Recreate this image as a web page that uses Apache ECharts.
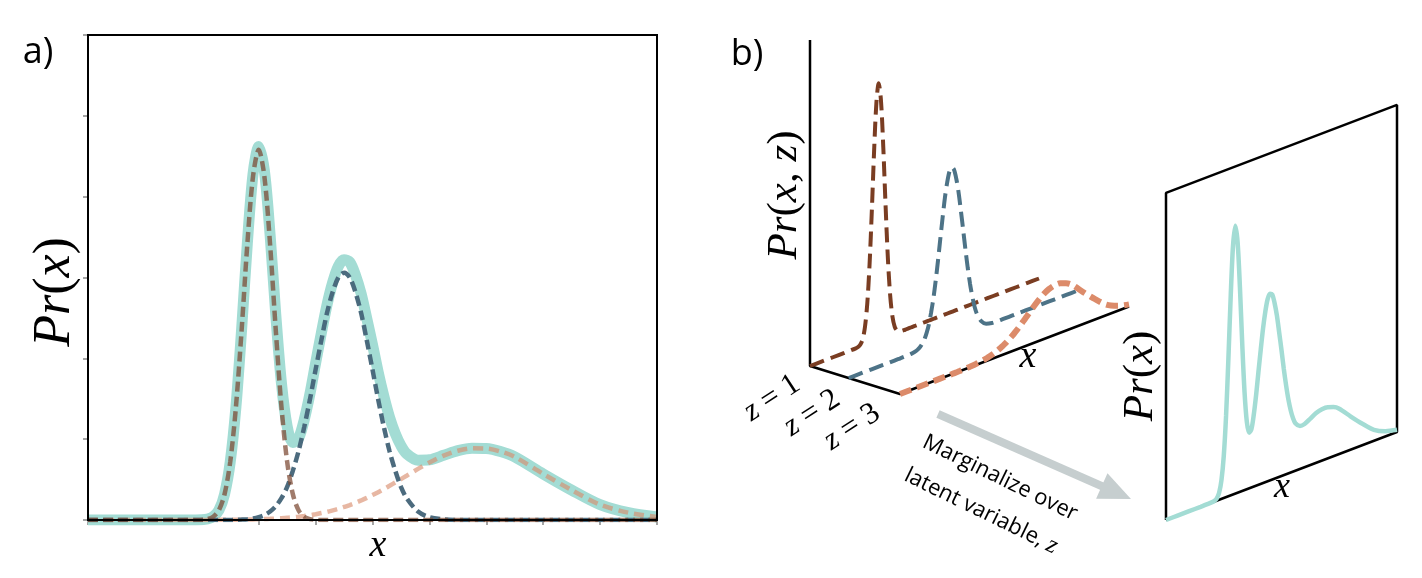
<!DOCTYPE html>
<html><head><meta charset="utf-8">
<script src="https://cdn.jsdelivr.net/npm/echarts@6/dist/echarts.min.js"></script>
<style>html,body{margin:0;padding:0;background:#fff}#c{width:1422px;height:578px}</style>
</head><body><div id="c"></div>
<script>
// ---- data ----
const xs = [0,0.5,1,1.5,2,2.1,2.2,2.3,2.4,2.5,2.6,2.7,2.8,2.9,3,3.1,3.2,3.3,3.4,3.5,3.6,3.7,3.8,3.9,4,4.1,4.2,4.3,4.4,4.5,4.6,4.7,4.8,4.9,5,5.1,5.2,5.3,5.4,5.5,5.6,5.8,6,6.25,6.5,6.75,7,7.25,7.5,8,8.5,9,9.5,10];
const comp1 = [0,0,0,0,0.003,0.011,0.04,0.12,0.32,0.72,1.40,2.35,3.41,4.25,4.58,4.25,3.41,2.35,1.40,0.72,0.32,0.12,0.04,0.011,0.003,0,0,0,0,0,0,0,0,0,0,0,0,0,0,0,0,0,0,0,0,0,0,0,0,0,0,0,0,0];
const comp2 = [0,0,0,0,0,0,0,0,0.001,0.001,0.002,0.005,0.009,0.018,0.034,0.061,0.104,0.17,0.27,0.41,0.61,0.85,1.15,1.49,1.86,2.22,2.56,2.82,3.00,3.06,3.00,2.82,2.56,2.22,1.86,1.49,1.15,0.85,0.61,0.41,0.27,0.104,0.034,0.007,0.001,0,0,0,0,0,0,0,0,0];
const comp3 = [0,0,0,0.0001,0.0006,0.0008,0.0011,0.0015,0.0019,0.0025,0.0033,0.0043,0.0055,0.007,0.009,0.011,0.014,0.018,0.022,0.027,0.034,0.041,0.05,0.06,0.072,0.086,0.101,0.119,0.138,0.161,0.185,0.212,0.242,0.274,0.308,0.344,0.383,0.423,0.464,0.506,0.548,0.632,0.711,0.796,0.857,0.887,0.884,0.847,0.781,0.57,0.37,0.19,0.09,0.038];
const mixture = [0,0,0,0,0.004,0.012,0.041,0.12,0.32,0.72,1.40,2.36,3.42,4.28,4.62,4.32,3.53,2.54,1.69,1.16,0.96,1.01,1.24,1.56,1.94,2.31,2.66,2.94,3.14,3.22,3.19,3.03,2.80,2.49,2.17,1.83,1.53,1.27,1.07,0.92,0.82,0.74,0.745,0.80,0.858,0.887,0.884,0.847,0.781,0.57,0.37,0.19,0.09,0.038];
const xTicks = [0,1,2,3,4,5,6,7,8,9,10];
const zLabels = ['1','2','3'];

// ---- layout / projection (positions, not data) ----
const P3 = {ox:810, oy:366, xv:[22.9,-8.75], zv:[90,28], hs:56, zf:[0,0.43,1], axisH:5.82};
const PR = {ox:1166, oy:520, xv:[23.1,-8.8], hs:58, frameH:5.64};
function p3(x, zf, h){ return [P3.ox + x*P3.xv[0] + zf*P3.zv[0], P3.oy + x*P3.xv[1] + zf*P3.zv[1] - h*P3.hs]; }
function pr(x, h){ return [PR.ox + x*PR.xv[0], PR.oy + x*PR.xv[1] - h*PR.hs]; }
const xMax = xTicks[xTicks.length-1];

const TEAL = '#a3dcd4';
const SERIF = '"Liberation Serif"';
const SANS = '"Open Sans"';

const chart = echarts.init(document.getElementById('c'), null, {renderer:'canvas'});
const pairs = a => xs.map((x,i)=>[x,a[i]]);
const pix = {xAxisIndex:1, yAxisIndex:1, type:'line', symbol:'none', silent:true, clip:false, animation:false};
const lineA = (data, color, width, dash, z) => ({type:'line', xAxisIndex:0, yAxisIndex:0, data, symbol:'none', smooth:0.3, silent:true, animation:false, z,
  lineStyle:{color, width, type: dash || 'solid'}});

function txt(x, y, rot, text, rich, font){
  const style = {text, align:'center', verticalAlign:'middle', fill:'#000'};
  if (rich) style.rich = rich;
  if (font) style.font = font;
  return {type:'text', x, y, rotation:rot, silent:true, style};
}
const mathRich = size => ({i:{font:'italic '+size+'px '+SERIF, fill:'#000'}, n:{font:size+'px '+SERIF, fill:'#000'}});

const series = [
  lineA(pairs(mixture), TEAL, 11, null, 2),
  lineA(pairs(comp3), 'rgba(217,138,106,0.62)', 4.5, [10,6], 3),
  lineA(pairs(comp2), 'rgba(70,102,122,0.97)', 4.5, [10,5], 4),
  lineA(pairs(comp1), 'rgba(123,72,50,0.72)', 4.5, [10,5], 5),
  // panel b 3D frame
  Object.assign({}, pix, {data:[p3(0,0,P3.axisH), p3(0,0,0), p3(0,1,0), p3(xMax,1,0)], lineStyle:{color:'#000', width:2.5}, z:2}),
  Object.assign({}, pix, {data:xs.map((x,i)=>p3(x,P3.zf[0],comp1[i])), smooth:0.3, lineStyle:{color:'#7a3d22', width:4, type:[15,7]}, z:3}),
  Object.assign({}, pix, {data:xs.map((x,i)=>p3(x,P3.zf[1],comp2[i])), smooth:0.3, lineStyle:{color:'#4d7387', width:4, type:[15,7]}, z:4}),
  Object.assign({}, pix, {data:xs.map((x,i)=>p3(x,P3.zf[2],comp3[i])), smooth:0.3, lineStyle:{color:'#dc8b6a', width:6, type:[12,6]}, z:5}),
  // right marginal panel
  Object.assign({}, pix, {data:[pr(0,0), pr(0,PR.frameH), pr(xMax,PR.frameH), pr(xMax,0), pr(0,0)], lineStyle:{color:'#000', width:2.5}, z:2}),
  Object.assign({}, pix, {data:xs.map((x,i)=>pr(x,mixture[i])), smooth:0.3, lineStyle:{color:TEAL, width:4.5}, z:3})
];

const au = [0.913, 0.407], tip = [1131, 499], hl = 32, hw = 14;
const base = [tip[0]-hl*au[0], tip[1]-hl*au[1]];
const ARROW = '#c6cecf';

const graphic = [
  txt(38, 53, 0, 'a)', null, '36px '+SANS),
  txt(747, 55, 0, 'b)', null, '36px '+SANS),
  txt(55, 292, Math.PI/2, '{i|Pr}{n|(}{i|x}{n|)}', mathRich(52)),
  txt(378, 546, 0, '{i|x}', mathRich(38)),
  txt(785, 195, Math.PI/2, '{i|Pr}{n|(}{i|x}{n|, }{i|z}{n|)}', mathRich(43)),
  txt(1028, 357, 0, '{i|x}', mathRich(38)),
  txt(1141, 376, Math.PI/2, '{i|Pr}{n|(}{i|x}{n|)}', mathRich(43)),
  txt(1282, 488, 0, '{i|x}', mathRich(36)),
  txt(772, 398, 0.58, '{i|z}{n| = '+zLabels[0]+'}', mathRich(31)),
  txt(812, 413, 0.58, '{i|z}{n| = '+zLabels[1]+'}', mathRich(31)),
  txt(852, 427, 0.58, '{i|z}{n| = '+zLabels[2]+'}', mathRich(31)),
  txt(1000, 478, -0.454, 'Marginalize over', null, '22px '+SANS),
  txt(981, 511, -0.454, '{s|latent variable, }{i|z}', {s:{font:'22px '+SANS, fill:'#000'}, i:{font:'italic 25px '+SERIF, fill:'#000'}}),
  {type:'line', silent:true, shape:{x1:938, y1:414, x2:base[0]+2, y2:base[1]+1}, style:{stroke:ARROW, lineWidth:8}},
  {type:'polygon', silent:true, shape:{points:[tip, [base[0]-0.407*hw, base[1]+0.913*hw], [base[0]+0.407*hw, base[1]-0.913*hw]]}, style:{fill:ARROW}}
];

chart.setOption({
  animation:false,
  grid:[
    {left:88, top:35, width:569, height:485, show:true, borderColor:'#000', borderWidth:2, backgroundColor:'transparent', z:10},
    {left:0, top:0, width:1422, height:578, show:false}
  ],
  xAxis:[
    {type:'value', gridIndex:0, min:0, max:10, interval:1, axisLine:{show:true, onZero:false, lineStyle:{color:'#000', width:2}}, axisTick:{show:true, length:5, lineStyle:{color:'#888', width:1.5}}, axisLabel:{show:false}, splitLine:{show:false}},
    {type:'value', gridIndex:1, min:0, max:1422, show:false}
  ],
  yAxis:[
    {type:'value', gridIndex:0, min:0, max:6, interval:1, axisLine:{show:true, lineStyle:{color:'#000', width:2}}, axisTick:{show:true, length:5, lineStyle:{color:'#888', width:1.5}}, axisLabel:{show:false}, splitLine:{show:false}},
    {type:'value', gridIndex:1, min:0, max:578, inverse:true, show:false}
  ],
  series,
  graphic
});
</script></body></html>
